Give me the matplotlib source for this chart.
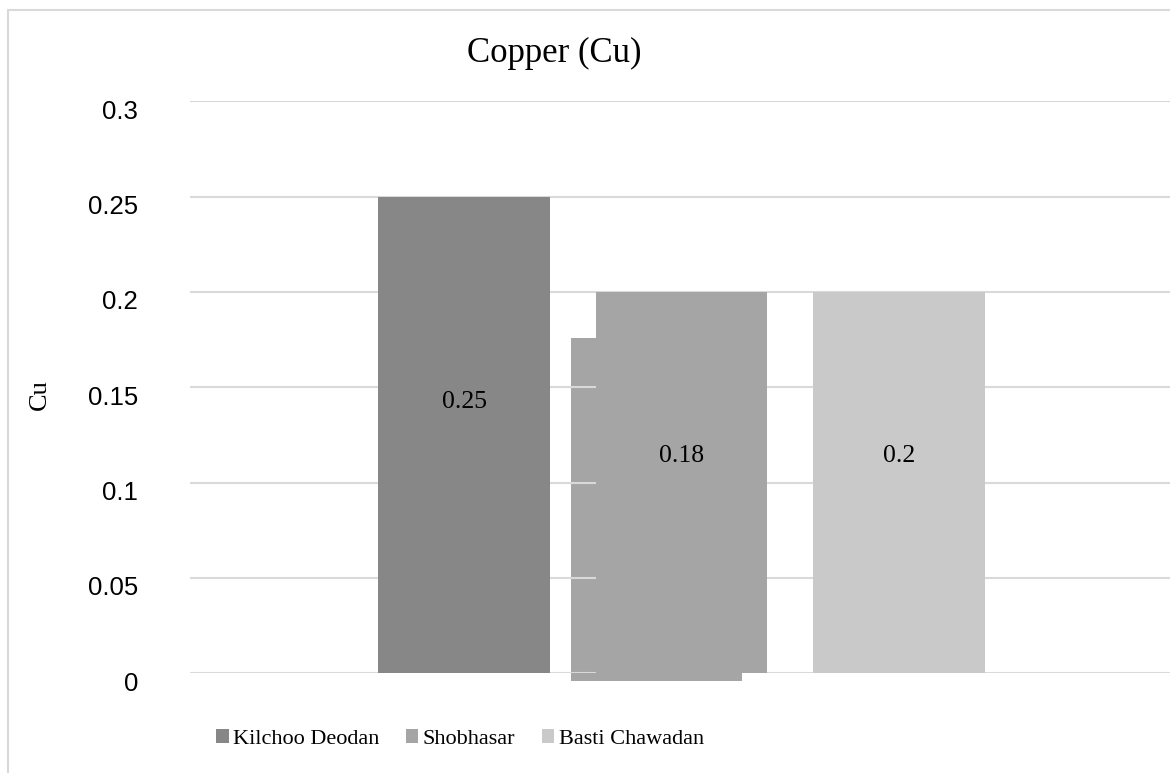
import numpy as np
import matplotlib.pyplot as plt
from matplotlib.patches import Rectangle
from matplotlib.transforms import ScaledTranslation

sites = ['Kilchoo Deodan', 'Shobhasar', 'Basti Chawadan']
cu = [0.25, 0.18, 0.2]
colors = ['#878787', '#a5a5a5', '#c9c9c9']
# the source picture shows the Shobhasar bar twice: once at its value (shifted),
# and once reaching the 0.2 gridline
shob_overlay = 0.2
yticks = [0, 0.05, 0.1, 0.15, 0.2, 0.25, 0.3]
ytick_labels = ['0', '0.05', '0.1', '0.15', '0.2', '0.25', '0.3']

serif = 'Liberation Serif'
sans = 'Liberation Sans'

fig = plt.figure(figsize=(11.7, 7.73), dpi=100)
ax = fig.add_axes([190/1170, 99.7/773, 983/1170, 572/773])

x = np.arange(len(sites)) - 1
w = 0.79
shown = [cu[0], shob_overlay, cu[2]]

# shifted copy of the Shobhasar bar, sits under the gridlines
ax.bar(x[1] - 0.115, cu[1], w, bottom=-0.004, color=colors[1], zorder=0.3, clip_on=False)
bars = []
for i in range(len(sites)):
    b = ax.bar(x[i], shown[i], w, color=colors[i], zorder=2)
    bars.append(b)
    ax.text(x[i], shown[i] * 0.57, f'{cu[i]:g}', ha='center', va='center',
            fontsize=18.5, family=serif, zorder=3)

ax.set_xlim(-2.26, 2.26)
ax.set_ylim(0, 0.3)
ax.set_xticks([])
ax.set_yticks(yticks)
ax.set_yticklabels(ytick_labels, fontsize=18.5, family=sans)
ax.tick_params(axis='y', length=0, pad=37.4)
for lab in ax.get_yticklabels():
    lab.set_transform(lab.get_transform() + ScaledTranslation(0, -0.08, fig.dpi_scale_trans))
ax.yaxis.grid(True, color='#d9d9d9', linewidth=1.5)
ax.set_axisbelow(True)
for s in ax.spines.values():
    s.set_visible(False)

fig.text(554/1170, 1 - 53/773, 'Copper (Cu)', ha='center', va='center',
         fontsize=25, family=serif)
fig.text(40/1170, 1 - 395/773, 'Cu', rotation=90, ha='center', va='center',
         fontsize=19, family=serif)

fig.legend([b[0] for b in bars], sites, loc='center', bbox_to_anchor=(460/1170, 34/773),
           ncol=3, frameon=False, prop={'family': serif, 'size': 16},
           handlelength=0.55, handleheight=0.55, handletextpad=0.2, columnspacing=1.2)

fig.add_artist(Rectangle((8/1170, -0.1), 2, 1.1 - 10/773, transform=fig.transFigure,
                         fill=False, edgecolor='#d9d9d9', linewidth=1.5, clip_on=False))

fig.savefig('out.png', dpi=100)
